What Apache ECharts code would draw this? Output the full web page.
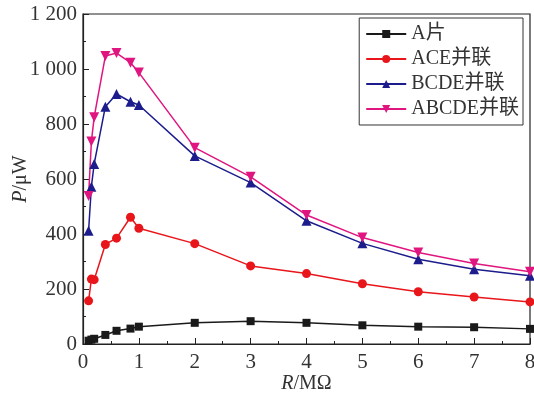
<!DOCTYPE html>
<html>
<head>
<meta charset="utf-8">
<script src="https://cdn.jsdelivr.net/npm/echarts@6/dist/echarts.min.js"></script>
<style>
  html, body { margin: 0; padding: 0; background: #fff; }
  #chart { width: 534px; height: 396px; }
</style>
</head>
<body>
<div id="chart"></div>
<script>
// R / MΩ
const rValues = [0.1, 0.15, 0.2, 0.4, 0.6, 0.85, 1, 2, 3, 4, 5, 6, 7, 8];
// P / μW
const aPian   = [12, 16, 19, 33, 48, 56, 63, 77, 83, 77, 68, 63, 61, 55];
const ace     = [157, 236, 234, 362, 385, 461, 421, 365, 284, 256, 219, 190, 171, 153];
const bcde    = [412, 572, 655, 863, 909, 881, 869, 684, 587, 448, 366, 308, 272, 248];
const abcde   = [538, 736, 825, 1047, 1058, 1023, 987, 714, 608, 469, 387, 333, 293, 263];
const seriesNames = ['A片', 'ACE并联', 'BCDE并联', 'ABCDE并联'];

const font = '"Liberation Serif", "Noto Sans CJK SC", serif';

function pairs(ys) {
  return rValues.map((x, i) => [x, ys[i]]);
}

function line(name, ys, color, symbol, size, rotate) {
  return {
    name: name,
    type: 'line',
    data: pairs(ys),
    symbol: symbol,
    symbolSize: size,
    symbolRotate: rotate || 0,
    lineStyle: { color: color, width: 1.5 },
    itemStyle: { color: color },
    animation: false
  };
}

const chart = echarts.init(document.getElementById('chart'));
chart.setOption({
  backgroundColor: '#fff',
  grid: {
    left: 83, right: 4, top: 14, bottom: 52,
    outerBoundsMode: 'none',
    containLabel: false,
    show: true, borderColor: '#222', borderWidth: 1.2
  },
  legend: {
    right: 11, top: 18,
    orient: 'vertical',
    itemGap: 5,
    itemWidth: 40, itemHeight: 10,
    padding: [6, 4, 6, 6],
    borderColor: '#333', borderWidth: 1,
    textStyle: { fontFamily: font, fontSize: 20, color: '#333' },
    data: seriesNames
  },
  xAxis: {
    type: 'value',
    min: 0, max: 8, interval: 1,
    name: '{i|R}/MΩ',
    nameLocation: 'middle',
    nameGap: 30,
    nameMoveOverlap: false,
    nameTextStyle: {
      fontFamily: font, fontSize: 20, color: '#333',
      rich: { i: { fontStyle: 'italic', fontFamily: font, fontSize: 20, color: '#333' } }
    },
    axisLine: { lineStyle: { color: '#222', width: 1.2 } },
    axisTick: { inside: true, length: 6, lineStyle: { color: '#222' } },
    minorTick: { show: true, splitNumber: 2, length: 3, lineStyle: { color: '#222' } },
    splitLine: { show: false },
    axisLabel: { fontFamily: font, fontSize: 21, color: '#333', margin: 8 }
  },
  yAxis: {
    type: 'value',
    min: 0, max: 1200, interval: 200,
    name: '{i|P}/μW',
    nameLocation: 'middle',
    nameGap: 52,
    nameMoveOverlap: false,
    nameRotate: 90,
    nameTextStyle: {
      fontFamily: font, fontSize: 20, color: '#333',
      rich: { i: { fontStyle: 'italic', fontFamily: font, fontSize: 20, color: '#333' } }
    },
    axisLine: { show: true, lineStyle: { color: '#222', width: 1.2 } },
    axisTick: { inside: true, length: 6, lineStyle: { color: '#222' } },
    minorTick: { show: true, splitNumber: 2, length: 3, lineStyle: { color: '#222' } },
    splitLine: { show: false },
    axisLabel: {
      fontFamily: font, fontSize: 21, color: '#333', margin: 6,
      formatter: v => v >= 1000 ? Math.floor(v / 1000) + ' ' + String(v % 1000).padStart(3, '0') : String(v)
    }
  },
  series: [
    line(seriesNames[0], aPian, '#1a1a1a', 'rect', 8),
    line(seriesNames[1], ace, '#e8161b', 'circle', 9),
    line(seriesNames[2], bcde, '#1c1c8c', 'triangle', 10),
    line(seriesNames[3], abcde, '#e0157f', 'triangle', 10, 180)
  ]
});
</script>
</body>
</html>
